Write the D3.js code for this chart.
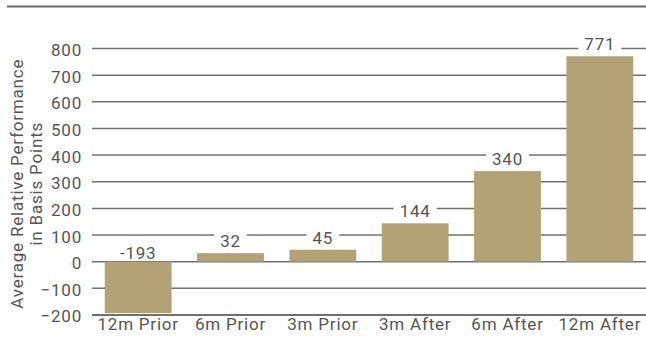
<!DOCTYPE html>
<html>
<head>
<meta charset="utf-8">
<script src="https://cdn.jsdelivr.net/npm/d3@7"></script>
<style>
  html, body { margin: 0; padding: 0; background: #fff; }
  svg { display: block; }
  svg text { font-family: "Roboto", sans-serif; letter-spacing: 0.8px; }
</style>
</head>
<body>
<svg id="chart" width="646" height="341"></svg>
<script>
// Average relative performance (basis points) around the event window
const periods = ["12m Prior", "6m Prior", "3m Prior", "3m After", "6m After", "12m After"];
const performance = [-193, 32, 45, 144, 340, 771];
const yTicks = [-200, -100, 0, 100, 200, 300, 400, 500, 600, 700, 800];
const titleLines = ["Average Relative Performance", "in Basis Points"];

const W = 646, H = 341;
const margin = { top: 48.5, right: 0, bottom: 26, left: 92 };
const textColor = "#555555";
const gridColor = "#707070";
const barColor = "#b2a275";
const fontSize = 17;
const fontFamily = "Roboto";

const svg = d3.select("#chart");

// header rule
svg.append("line")
  .attr("x1", 7).attr("x2", W)
  .attr("y1", 6.5).attr("y2", 6.5)
  .attr("stroke", "#6a6a6a").attr("stroke-width", 2);

const x = d3.scaleBand()
  .domain(periods)
  .range([margin.left, W - margin.right])
  .paddingInner(0.276)
  .paddingOuter(0.138);

const y = d3.scaleLinear()
  .domain([-200, 800])
  .range([315, margin.top]);

// horizontal gridlines
svg.append("g")
  .selectAll("line")
  .data(yTicks)
  .join("line")
  .attr("x1", margin.left).attr("x2", W)
  .attr("y1", d => y(d)).attr("y2", d => y(d))
  .attr("stroke", gridColor)
  .attr("stroke-width", d => d === -200 ? 2 : 1.5);

// y axis labels
const yAxis = d3.axisLeft(y).tickValues(yTicks).tickSize(0).tickPadding(10);
const gy = svg.append("g")
  .attr("transform", `translate(${margin.left},0)`)
  .call(yAxis)
  .attr("font-family", fontFamily)
  .attr("font-size", fontSize);
gy.select(".domain").remove();
gy.selectAll("text").attr("fill", textColor).attr("dy", "0.41em");

// x axis labels
const xAxis = d3.axisBottom(x).tickSize(0).tickPadding(3);
const gx = svg.append("g")
  .attr("transform", `translate(0,${y(-200)})`)
  .call(xAxis)
  .attr("font-family", fontFamily)
  .attr("font-size", fontSize);
gx.select(".domain").remove();
gx.selectAll("text").attr("fill", textColor);

// bars
svg.append("g")
  .selectAll("rect")
  .data(performance)
  .join("rect")
  .attr("x", (d, i) => x(periods[i]))
  .attr("width", x.bandwidth())
  .attr("y", d => y(Math.max(d, 0)))
  .attr("height", d => Math.abs(y(d) - y(0)))
  .attr("fill", barColor);

// value labels with white knockout behind them
const labels = svg.append("g")
  .attr("font-family", fontFamily)
  .attr("font-size", fontSize)
  .selectAll("g")
  .data(performance)
  .join("g")
  .attr("transform", (d, i) =>
    `translate(${x(periods[i]) + x.bandwidth() / 2},${y(Math.max(d, 0)) - (d < 0 ? 3 : 6)})`);

labels.append("text")
  .attr("text-anchor", "middle")
  .attr("fill", textColor)
  .text(d => d);

labels.each(function () {
  const g = d3.select(this);
  const bb = g.select("text").node().getBBox();
  g.insert("rect", "text")
    .attr("x", bb.x - 6)
    .attr("y", bb.y + 2)
    .attr("width", bb.width + 12)
    .attr("height", bb.height - 4)
    .attr("fill", "#fff");
});

// rotated y title, two lines
const title = svg.append("text")
  .attr("transform", `translate(22.5,${y(300) + 2}) rotate(-90)`)
  .attr("text-anchor", "middle")
  .attr("fill", textColor)
  .attr("font-family", fontFamily)
  .attr("font-size", fontSize);
title.selectAll("tspan")
  .data(titleLines)
  .join("tspan")
  .attr("x", 0)
  .attr("dy", (d, i) => i === 0 ? 0 : 19.5)
  .text(d => d);
</script>
</body>
</html>
